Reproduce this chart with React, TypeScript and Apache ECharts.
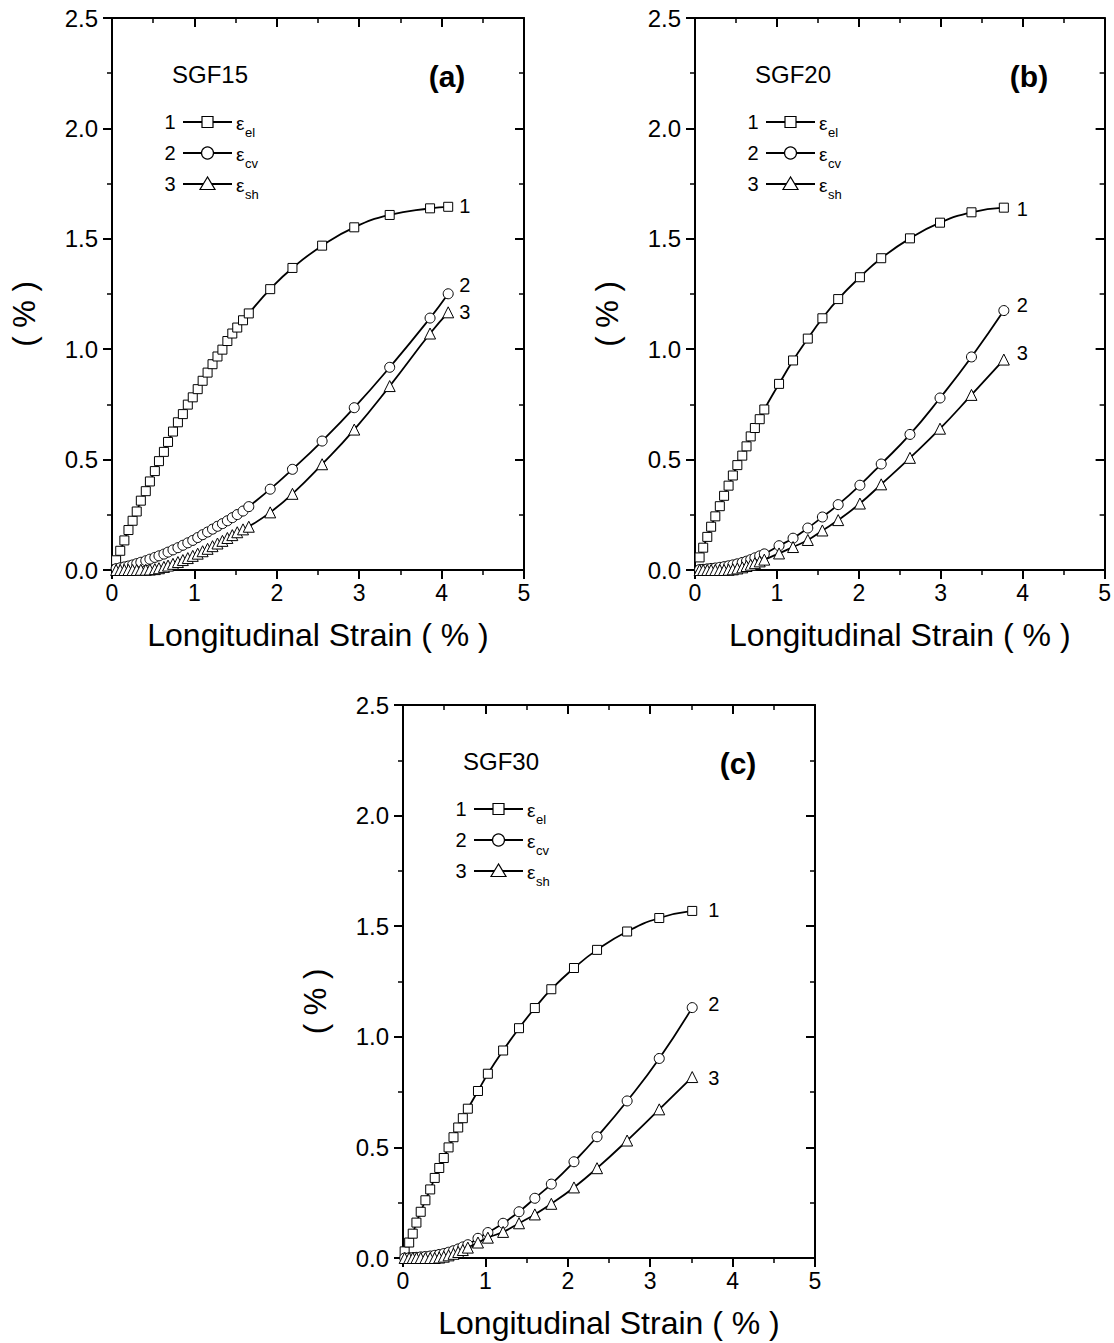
import React, { useEffect, useRef } from "react";
import * as echarts from "echarts";

// ---------- data ----------
// Panel (a) SGF15
const strainA = [0.05, 0.10, 0.15, 0.20, 0.25, 0.30, 0.35, 0.41, 0.46, 0.52, 0.57, 0.63, 0.68, 0.74, 0.80, 0.86, 0.92, 0.98, 1.04, 1.10, 1.16, 1.22, 1.28, 1.34, 1.40, 1.46, 1.52, 1.59, 1.66, 1.92, 2.19, 2.55, 2.94, 3.37, 3.86, 4.08];
const elA = [0.044, 0.087, 0.134, 0.181, 0.223, 0.265, 0.314, 0.357, 0.401, 0.448, 0.493, 0.535, 0.580, 0.627, 0.669, 0.706, 0.749, 0.782, 0.819, 0.857, 0.894, 0.932, 0.967, 0.998, 1.037, 1.071, 1.098, 1.131, 1.162, 1.272, 1.368, 1.469, 1.552, 1.608, 1.638, 1.645];
const cvA = [0.006, 0.010, 0.014, 0.018, 0.023, 0.029, 0.035, 0.042, 0.049, 0.057, 0.064, 0.072, 0.081, 0.091, 0.101, 0.112, 0.123, 0.134, 0.147, 0.160, 0.172, 0.185, 0.198, 0.210, 0.223, 0.237, 0.251, 0.267, 0.287, 0.366, 0.456, 0.584, 0.735, 0.918, 1.141, 1.251];
const shA = [0.000, 0.000, 0.000, 0.000, 0.000, 0.000, 0.001, 0.001, 0.002, 0.004, 0.008, 0.014, 0.020, 0.028, 0.036, 0.045, 0.054, 0.064, 0.074, 0.085, 0.096, 0.108, 0.120, 0.132, 0.145, 0.158, 0.171, 0.184, 0.196, 0.261, 0.345, 0.479, 0.636, 0.833, 1.071, 1.167];

// Panel (b) SGF20
const strainB = [0.056, 0.10, 0.15, 0.197, 0.248, 0.303, 0.355, 0.41, 0.462, 0.517, 0.577, 0.629, 0.68, 0.731, 0.79, 0.846, 1.026, 1.197, 1.377, 1.555, 1.748, 2.013, 2.273, 2.624, 2.991, 3.375, 3.77];
const elB = [0.057, 0.101, 0.150, 0.196, 0.243, 0.289, 0.336, 0.382, 0.428, 0.475, 0.518, 0.560, 0.605, 0.643, 0.683, 0.727, 0.843, 0.949, 1.048, 1.140, 1.227, 1.326, 1.412, 1.502, 1.573, 1.620, 1.641];
const cvB = [0.002, 0.003, 0.005, 0.007, 0.009, 0.012, 0.015, 0.019, 0.023, 0.028, 0.034, 0.040, 0.047, 0.055, 0.064, 0.073, 0.110, 0.144, 0.190, 0.240, 0.296, 0.384, 0.480, 0.614, 0.779, 0.965, 1.175];
const shB = [0.000, 0.000, 0.000, 0.000, 0.000, 0.000, 0.000, 0.001, 0.003, 0.007, 0.012, 0.018, 0.024, 0.031, 0.039, 0.047, 0.075, 0.104, 0.136, 0.179, 0.226, 0.301, 0.388, 0.508, 0.640, 0.793, 0.953];

// Panel (c) SGF30
const strainC = [0.02, 0.075, 0.118, 0.163, 0.215, 0.272, 0.33, 0.385, 0.44, 0.495, 0.553, 0.613, 0.67, 0.726, 0.787, 0.91, 1.03, 1.215, 1.408, 1.6, 1.8, 2.075, 2.355, 2.72, 3.11, 3.51];
const elC = [0.03, 0.07, 0.11, 0.16, 0.209, 0.261, 0.31, 0.362, 0.407, 0.452, 0.5, 0.546, 0.59, 0.632, 0.675, 0.755, 0.833, 0.938, 1.039, 1.13, 1.215, 1.311, 1.393, 1.476, 1.537, 1.569];
const cvC = [0.000, 0.001, 0.002, 0.003, 0.005, 0.007, 0.009, 0.012, 0.016, 0.020, 0.026, 0.033, 0.041, 0.050, 0.060, 0.089, 0.115, 0.157, 0.209, 0.270, 0.334, 0.435, 0.548, 0.710, 0.902, 1.132];
const shC = [0.000, 0.000, 0.000, 0.000, 0.000, 0.000, 0.000, 0.000, 0.002, 0.006, 0.012, 0.019, 0.027, 0.036, 0.047, 0.070, 0.092, 0.118, 0.157, 0.197, 0.245, 0.319, 0.406, 0.531, 0.672, 0.818];

const sampleNames = ["SGF15", "SGF20", "SGF30"];
const panelTags = ["(a)", "(b)", "(c)"];
const curveNumbers = ["1", "2", "3"];
const curveSubs = ["el", "cv", "sh"];
const xTitle = "Longitudinal Strain ( % )";
const yTitle = "( % )";

// ---------- layout / style ----------
const FONT = '"Liberation Sans", Arial, Helvetica, sans-serif';
const GRIDS = [
  { left: 112, top: 18, width: 412, height: 552 },
  { left: 695, top: 18, width: 411, height: 552 },
  { left: 403, top: 705, width: 412, height: 553 },
];
const END_LABEL = [
  { dist: 11, dy: [-1, -9, 0] },
  { dist: 13, dy: [1, -6, -7] },
  { dist: 16, dy: [-1, -4, 1] },
];

const panels = [
  { strain: strainA, ys: [elA, cvA, shA] },
  { strain: strainB, ys: [elB, cvB, shB] },
  { strain: strainC, ys: [elC, cvC, shC] },
];

const SYMBOLS = ["rect", "circle", "triangle"];
const SYMBOL_SIZES = [9, 10, 11];

function buildOption() {
  const grid: any[] = [];
  const xAxis: any[] = [];
  const yAxis: any[] = [];
  const series: any[] = [];
  const graphic: any[] = [];

  const axisLine = { onZero: false, lineStyle: { color: "#000", width: 2 } };
  const tick = (inside: boolean) => ({ show: true, inside, length: 9, lineStyle: { color: "#000", width: 2 } });
  const minor = (n: number) => ({ show: true, splitNumber: n, length: 5, lineStyle: { color: "#000", width: 1.5 } });

  panels.forEach((p, i) => {
    const g = GRIDS[i];
    grid.push({ ...g, containLabel: false });

    xAxis.push({
      gridIndex: i, type: "value", min: 0, max: 5, interval: 1, position: "bottom",
      axisLine, axisTick: tick(false), minorTick: minor(2), splitLine: { show: false },
      axisLabel: { color: "#000", fontSize: 23, fontFamily: FONT, margin: 11 },
      name: xTitle, nameLocation: "middle", nameGap: 49,
      nameTextStyle: { color: "#000", fontSize: 32, fontFamily: FONT },
    });
    xAxis.push({
      gridIndex: i, type: "value", min: 0, max: 5, interval: 1, position: "top",
      axisLine, axisTick: tick(true), minorTick: minor(2), splitLine: { show: false },
      axisLabel: { show: false },
    });
    yAxis.push({
      gridIndex: i, type: "value", min: 0, max: 2.5, interval: 0.5, position: "left",
      axisLine, axisTick: tick(false), minorTick: minor(2), splitLine: { show: false },
      axisLabel: { color: "#000", fontSize: 24, fontFamily: FONT, margin: 14, formatter: (v: number) => v.toFixed(1) },
    });
    yAxis.push({
      gridIndex: i, type: "value", min: 0, max: 2.5, interval: 0.5, position: "right",
      axisLine, axisTick: tick(true), minorTick: minor(2), splitLine: { show: false },
      axisLabel: { show: false },
    });

    p.ys.forEach((ys, k) => {
      series.push({
        type: "line",
        name: `${sampleNames[i]} ε${curveSubs[k]}`,
        xAxisIndex: 2 * i,
        yAxisIndex: 2 * i,
        data: p.strain.map((x, j) => [x, ys[j]]),
        symbol: SYMBOLS[k],
        symbolSize: SYMBOL_SIZES[k],
        showAllSymbol: true,
        smooth: 0.5,
        lineStyle: { color: "#000", width: 1.8 },
        itemStyle: { color: "#fff", borderColor: "#000", borderWidth: 1 },
        endLabel: {
          show: true, formatter: curveNumbers[k], color: "#000", fontSize: 20, fontFamily: FONT,
          distance: END_LABEL[i].dist, offset: [0, END_LABEL[i].dy[k]],
        },
        silent: true,
        z: 3 + k,
      });
    });

    const L = g.left, T = g.top, R = g.left + g.width;
    // sample name and panel tag
    graphic.push({
      type: "text", x: L + 60, y: T + 56,
      style: { text: sampleNames[i], fill: "#000", fontSize: 24, fontFamily: FONT, align: "left", verticalAlign: "middle" },
    });
    graphic.push({
      type: "text", x: R - 77, y: T + 58,
      style: { text: panelTags[i], fill: "#000", fontSize: 30, fontWeight: "bold", fontFamily: FONT, align: "center", verticalAlign: "middle" },
    });
    // y title
    graphic.push({
      type: "text", x: L - 88, y: T + g.height / 2 + 20, rotation: Math.PI / 2,
      style: { text: yTitle, fill: "#000", fontSize: 31, fontFamily: FONT, align: "center", verticalAlign: "middle" },
    });
    // legend
    const rows = [T + 104, T + 135, T + 166];
    rows.forEach((ry, k) => {
      graphic.push({
        type: "text", x: L + 58, y: ry,
        style: { text: curveNumbers[k], fill: "#000", fontSize: 20, fontFamily: FONT, align: "center", verticalAlign: "middle" },
      });
      graphic.push({
        type: "line", z: 50,
        shape: { x1: L + 71, y1: ry, x2: L + 120, y2: ry },
        style: { stroke: "#000", lineWidth: 1.8 },
      });
      const mx = L + 95.5;
      const mstyle = { fill: "#fff", stroke: "#000", lineWidth: 1.2 };
      if (k === 0) {
        graphic.push({ type: "rect", z: 51, shape: { x: mx - 5.5, y: ry - 5.5, width: 11, height: 11 }, style: mstyle });
      } else if (k === 1) {
        graphic.push({ type: "circle", z: 51, shape: { cx: mx, cy: ry, r: 6 }, style: mstyle });
      } else {
        graphic.push({ type: "polygon", z: 51, shape: { points: [[mx, ry - 7], [mx - 7.5, ry + 5.5], [mx + 7.5, ry + 5.5]] }, style: mstyle });
      }
      graphic.push({
        type: "text", x: L + 124, y: ry + 1,
        style: { text: "ε", fill: "#000", fontSize: 19, fontFamily: FONT, align: "left", verticalAlign: "middle" },
      });
      graphic.push({
        type: "text", x: L + 133, y: ry + 10,
        style: { text: curveSubs[k], fill: "#000", fontSize: 13, fontFamily: FONT, align: "left", verticalAlign: "middle" },
      });
    });
  });

  return {
    animation: false,
    backgroundColor: "#fff",
    textStyle: { fontFamily: FONT },
    grid, xAxis, yAxis, series, graphic,
  };
}

export default function App() {
  const ref = useRef<HTMLDivElement>(null);
  useEffect(() => {
    if (!ref.current) return;
    const chart = echarts.init(ref.current, null, { renderer: "svg" });
    chart.setOption(buildOption());
    return () => chart.dispose();
  }, []);
  return (
    <div
      ref={ref}
      style={{ position: "absolute", left: 0, top: 0, width: 1114, height: 1343, background: "#fff" }}
    />
  );
}
